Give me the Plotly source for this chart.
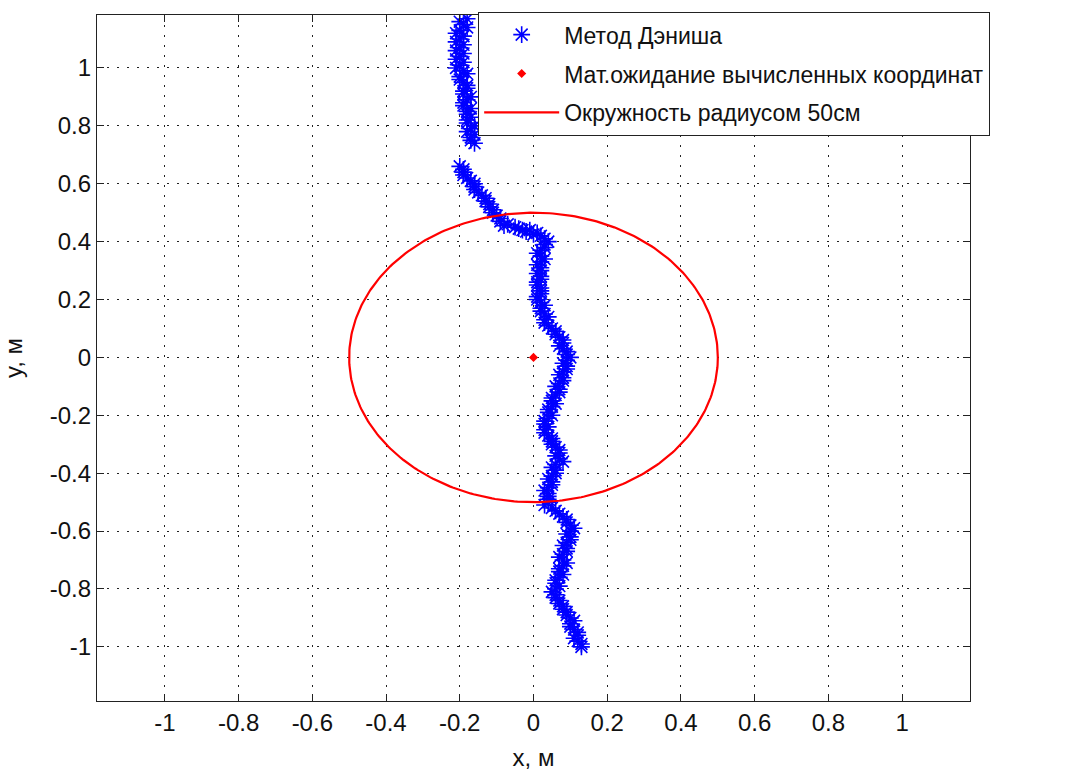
import plotly.graph_objects as go
import numpy as np

# Вычисленные координаты (метод Дэниша), м — основная серия
x_dennis = [
    -0.18, -0.19, -0.20, -0.19, -0.21, -0.20, -0.19, -0.21, -0.20, -0.19,
    -0.20, -0.19, -0.18, -0.19, -0.18, -0.19, -0.18, -0.17, -0.18, -0.17,
    -0.16, -0.17, -0.16,
    -0.20, -0.19, -0.18, -0.17, -0.16, -0.15, -0.14, -0.13, -0.12, -0.11,
    -0.10, -0.09, -0.07, -0.05, -0.03, -0.01, 0.01, 0.02, 0.03, 0.03,
    0.02, 0.02, 0.02, 0.02, 0.01, 0.02, 0.01, 0.02, 0.01, 0.02,
    0.02, 0.03, 0.03, 0.04, 0.06, 0.07, 0.08, 0.08, 0.09, 0.09,
    0.09, 0.08, 0.08, 0.07, 0.07, 0.06, 0.05, 0.05, 0.04, 0.04,
    0.03, 0.03, 0.04, 0.05, 0.06, 0.07, 0.07, 0.06, 0.06, 0.05,
    0.05, 0.04, 0.04, 0.04, 0.03, 0.05, 0.07, 0.09, 0.10, 0.10,
    0.10, 0.09, 0.09, 0.08, 0.08, 0.08, 0.07, 0.07, 0.06, 0.06,
    0.06, 0.07, 0.08, 0.09, 0.10, 0.10, 0.11, 0.12, 0.12, 0.13,
]
y_dennis = [
    1.17, 1.15, 1.13, 1.11, 1.09, 1.07, 1.05, 1.03, 1.01, 0.99,
    0.97, 0.95, 0.93, 0.91, 0.89, 0.87, 0.85, 0.83, 0.81, 0.79,
    0.77, 0.75, 0.74,
    0.66, 0.64, 0.62, 0.61, 0.59, 0.57, 0.56, 0.54, 0.52, 0.50,
    0.49, 0.47, 0.46, 0.45, 0.44, 0.44, 0.43, 0.42, 0.41, 0.39,
    0.37, 0.35, 0.33, 0.31, 0.29, 0.27, 0.25, 0.23, 0.21, 0.19,
    0.17, 0.15, 0.13, 0.11, 0.09, 0.07, 0.05, 0.03, 0.01, -0.01,
    -0.03, -0.05, -0.07, -0.09, -0.11, -0.13, -0.15, -0.17, -0.19, -0.21,
    -0.23, -0.25, -0.27, -0.29, -0.31, -0.33, -0.35, -0.37, -0.39, -0.41,
    -0.43, -0.45, -0.47, -0.49, -0.51, -0.52, -0.54, -0.56, -0.58, -0.60,
    -0.62, -0.64, -0.66, -0.68, -0.70, -0.72, -0.74, -0.76, -0.78, -0.80,
    -0.82, -0.84, -0.86, -0.88, -0.90, -0.92, -0.94, -0.96, -0.98, -1.00,
]

# Промежуточные измерения (метод Дэниша), м
x_dennis_mid = [
    -0.20, -0.18, -0.21, -0.20, -0.19, -0.21, -0.20, -0.19, -0.21, -0.18,
    -0.20, -0.18, -0.19, -0.17, -0.19, -0.17, -0.18, -0.18, -0.16, -0.18,
    -0.17,
    -0.19, -0.19, -0.16, -0.16, -0.13, -0.12, -0.11, -0.09,
    -0.08, -0.04, -0.02, 0.00,
    0.04, 0.03, 0.01, 0.03, 0.01, 0.02, 0.02, 0.01, 0.02, 0.02,
    0.01, 0.03, 0.02, 0.04, 0.03, 0.05, 0.06, 0.08, 0.07, 0.09, 0.10,
    0.08, 0.09, 0.07, 0.08, 0.06, 0.07, 0.05, 0.06, 0.04, 0.05,
    0.03, 0.04, 0.03, 0.05, 0.05, 0.07, 0.06, 0.08, 0.05, 0.06,
    0.04, 0.05, 0.03, 0.04, 0.04,
    0.06, 0.08, 0.09, 0.11, 0.09, 0.10, 0.08, 0.09, 0.07, 0.09,
    0.07, 0.08, 0.06, 0.07, 0.05, 0.06, 0.07, 0.08, 0.09, 0.11,
    0.10, 0.12, 0.11, 0.13,
]
y_dennis_mid = [
    1.16, 1.14, 1.12, 1.10, 1.08, 1.06, 1.04, 1.02, 1.00, 0.98,
    0.96, 0.94, 0.92, 0.90, 0.88, 0.86, 0.84, 0.82, 0.80, 0.78,
    0.76,
    0.65, 0.63, 0.60, 0.58, 0.55, 0.53, 0.51, 0.48,
    0.455, 0.445, 0.435, 0.425,
    0.40, 0.38, 0.36, 0.34, 0.32, 0.30, 0.28, 0.26, 0.24, 0.22,
    0.20, 0.18, 0.16, 0.14, 0.12, 0.10, 0.08, 0.06, 0.04, 0.02, 0.00,
    -0.02, -0.04, -0.06, -0.08, -0.10, -0.12, -0.14, -0.16, -0.18, -0.20,
    -0.22, -0.24, -0.26, -0.28, -0.30, -0.32, -0.34, -0.36, -0.38, -0.40,
    -0.42, -0.44, -0.46, -0.48, -0.50,
    -0.53, -0.55, -0.57, -0.59, -0.61, -0.63, -0.65, -0.67, -0.69, -0.71,
    -0.73, -0.75, -0.77, -0.79, -0.81, -0.83, -0.85, -0.87, -0.89, -0.91,
    -0.93, -0.95, -0.97, -0.99,
]

# Мат. ожидание вычисленных координат
mean_x = [0.0]
mean_y = [0.0]

# Окружность радиусом 50 см
radius = 0.5
theta = np.linspace(0, 2 * np.pi, 361)
circle_x = radius * np.cos(theta)
circle_y = radius * np.sin(theta)

tick_vals = [-1, -0.8, -0.6, -0.4, -0.2, 0, 0.2, 0.4, 0.6, 0.8, 1]
tick_text = ["-1", "-0.8", "-0.6", "-0.4", "-0.2", "0", "0.2", "0.4", "0.6", "0.8", "1"]

FONT = "Liberation Sans"
INK = "#111111"

x_all = x_dennis + x_dennis_mid
y_all = y_dennis + y_dennis_mid

fig = go.Figure()
fig.add_trace(go.Scatter(
    x=x_all, y=y_all, mode="markers", name="Метод Дэниша",
    marker=dict(symbol="asterisk-open", size=14, color="#0000ff",
                line=dict(color="#0000ff", width=1.6)),
    legendgroup="a",
))
fig.add_trace(go.Scatter(
    x=mean_x, y=mean_y, mode="markers", name="Мат.ожидание вычисленных координат",
    marker=dict(symbol="diamond", size=7, color="#ff0000"),
    legendgroup="b",
))
fig.add_trace(go.Scatter(
    x=circle_x, y=circle_y, mode="lines", name="Окружность радиусом 50см",
    line=dict(color="#ff0000", width=2.2),
    legendgroup="c",
))

axis_common = dict(
    tickmode="array", tickvals=tick_vals, ticktext=tick_text,
    showgrid=True, gridcolor="#222222", gridwidth=1, griddash="2px,8px",
    zeroline=False, showline=True, linecolor="#222222", linewidth=1.2,
    mirror="ticks", ticks="inside", ticklen=7, tickcolor="#222222",
    tickfont=dict(family=FONT, size=24, color=INK),
    automargin=False,
)

fig.update_xaxes(range=[-1.184, 1.184],
                 title=dict(text="x, м", font=dict(family=FONT, size=24, color=INK), standoff=14),
                 **axis_common)
fig.update_yaxes(range=[-1.187, 1.183],
                 title=dict(text="y, м", font=dict(family=FONT, size=24, color=INK), standoff=22),
                 **axis_common)

fig.update_layout(
    width=1072, height=771,
    margin=dict(l=97, r=102, t=15, b=70),
    paper_bgcolor="white", plot_bgcolor="white",
    font=dict(family=FONT, size=22, color=INK),
    showlegend=True,
    legend=dict(
        x=0.4364, y=1.0044, xanchor="left", yanchor="top",
        bgcolor="white", bordercolor="#222222", borderwidth=1.2,
        font=dict(family=FONT, size=23, color=INK),
        traceorder="grouped", tracegroupgap=6, itemwidth=75,
    ),
)

fig.write_html("out.html")
